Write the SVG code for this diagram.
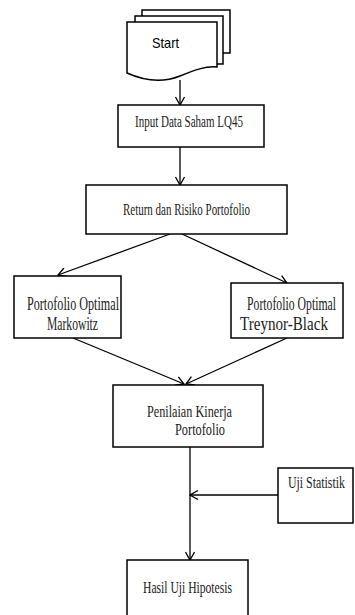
<svg xmlns="http://www.w3.org/2000/svg" width="355" height="615" viewBox="0 0 355 615">
<style>
.box{fill:#fff;stroke:#000;stroke-width:1.5}
.t{font-family:"Liberation Serif","Times New Roman",serif;fill:#222;font-size:16px}
.tb{font-family:"Liberation Serif","Times New Roman",serif;fill:#222;font-size:18px}
.c{fill:none;stroke:#000;stroke-width:1.3;marker-end:url(#ah)}
</style>
<defs>
<marker id="ah" viewBox="0 0 10 10" refX="9" refY="5" markerWidth="10" markerHeight="10" markerUnits="userSpaceOnUse" orient="auto">
<path d="M1,0.5 L9,5 L1,9.5" fill="none" stroke="#000" stroke-width="1.3"/>
</marker>
</defs>
<rect width="355" height="615" fill="#fff"/>
<g id="connectors">
<path class="c" d="M180,80 L180,105"/>
<path class="c" d="M180,147 L180,185"/>
<path class="c" d="M170,234 L58,275"/>
<path class="c" d="M182,234 L287,283"/>
<path class="c" d="M73,338 L184,384"/>
<path class="c" d="M287,338 L186,384"/>
<path class="c" d="M190,447 L190,560"/>
<path class="c" d="M278,495 L190,495"/>
</g>
<g id="start">
<path class="box" d="M142,16 L142,10 L230,10 L230,53 L223,53"/>
<path class="box" d="M135,22 L135,16 L223,16 L223,64 L217,64"/>
<path class="box" d="M127,22 L217,22 L217,67 C205,66 195,70 180,76 C165,82 147,82 127,73 Z"/>
<text x="152" y="48" font-family="'Liberation Sans',Arial,sans-serif" font-size="15" fill="#000" textLength="27" lengthAdjust="spacingAndGlyphs">Start</text>
</g>
<g id="input">
<rect class="box" x="118" y="105" width="146" height="42"/>
<text class="t" x="135" y="127" textLength="108" lengthAdjust="spacingAndGlyphs">Input Data Saham LQ45</text>
</g>
<g id="return">
<rect class="box" x="86" y="185" width="201" height="49"/>
<text class="t" x="123" y="215" textLength="127" lengthAdjust="spacingAndGlyphs">Return dan Risiko Portofolio</text>
</g>
<g id="markowitz">
<rect class="box" x="14" y="276" width="107" height="62"/>
<text class="tb" x="27" y="310" textLength="92" lengthAdjust="spacingAndGlyphs">Portofolio Optimal</text>
<text class="tb" x="47" y="330" textLength="51" lengthAdjust="spacingAndGlyphs">Markowitz</text>
</g>
<g id="treynor">
<rect class="box" x="231" y="283" width="112" height="55"/>
<text class="tb" x="247" y="310" textLength="89" lengthAdjust="spacingAndGlyphs">Portofolio Optimal</text>
<text class="tb" x="240" y="330" textLength="88" lengthAdjust="spacingAndGlyphs">Treynor-Black</text>
</g>
<g id="penilaian">
<rect class="box" x="113" y="385" width="150" height="62"/>
<text class="t" x="147" y="417" textLength="85" lengthAdjust="spacingAndGlyphs">Penilaian Kinerja</text>
<text class="t" x="175" y="435" textLength="50" lengthAdjust="spacingAndGlyphs">Portofolio</text>
</g>
<g id="uji">
<rect class="box" x="278" y="468" width="75" height="55"/>
<text class="t" x="288" y="488" textLength="57" lengthAdjust="spacingAndGlyphs">Uji Statistik</text>
</g>
<g id="hasil">
<rect class="box" x="127" y="560" width="121" height="60"/>
<text class="t" x="143" y="593" textLength="89" lengthAdjust="spacingAndGlyphs">Hasil Uji Hipotesis</text>
</g>
</svg>
